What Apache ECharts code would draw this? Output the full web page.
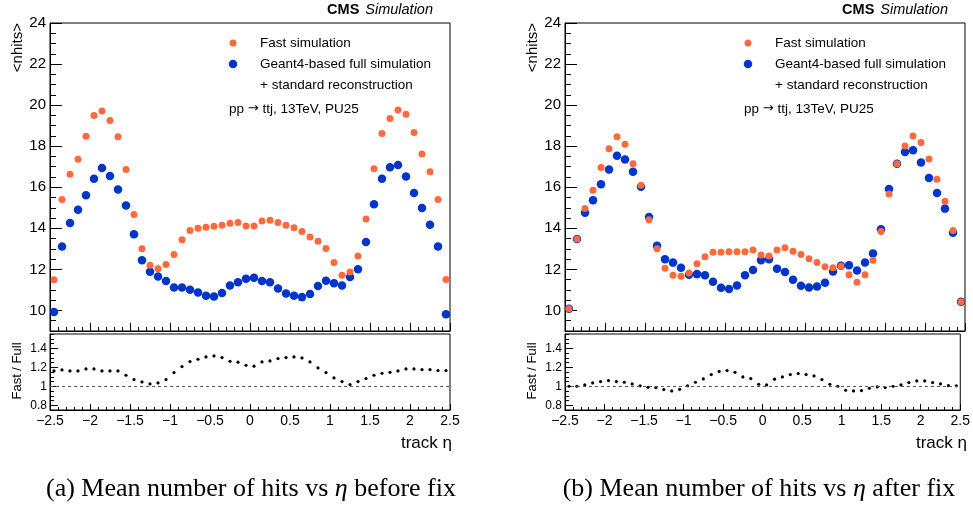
<!DOCTYPE html>
<html>
<head>
<meta charset="utf-8">
<script src="https://cdn.jsdelivr.net/npm/echarts@6/dist/echarts.min.js"></script>
<style>
html, body { margin: 0; padding: 0; background: #fff; }
#chart { width: 973px; height: 525px; }
</style>
</head>
<body>
<div id="chart"></div>
<script>
// Track eta bin centres (bins of width 0.1 from -2.5 to 2.5)
const etaCenters = [
  -2.45, -2.35, -2.25, -2.15, -2.05, -1.95, -1.85, -1.75, -1.65, -1.55,
  -1.45, -1.35, -1.25, -1.15, -1.05, -0.95, -0.85, -0.75, -0.65, -0.55,
  -0.45, -0.35, -0.25, -0.15, -0.05, 0.05, 0.15, 0.25, 0.35, 0.45,
  0.55, 0.65, 0.75, 0.85, 0.95, 1.05, 1.15, 1.25, 1.35, 1.45,
  1.55, 1.65, 1.75, 1.85, 1.95, 2.05, 2.15, 2.25, 2.35, 2.45
];

// (a) before fix: mean number of hits per track
const fastBefore = [
  11.50, 15.41, 16.63, 17.37, 18.49, 19.50, 19.72, 19.25, 18.46, 16.86,
  14.67, 13.01, 12.20, 12.03, 12.24, 12.72, 13.45, 13.89, 14.00, 14.05,
  14.10, 14.15, 14.25, 14.29, 14.11, 14.11, 14.36, 14.39, 14.29, 14.15,
  14.03, 13.84, 13.58, 13.37, 13.02, 12.33, 11.71, 11.87, 12.65, 14.45,
  16.90, 18.62, 19.35, 19.76, 19.55, 18.67, 17.62, 16.75, 15.40, 11.51
];
const fullBefore = [
  9.92, 13.12, 14.26, 14.91, 15.61, 16.42, 16.94, 16.55, 15.89, 15.11,
  13.71, 12.44, 11.89, 11.66, 11.43, 11.12, 11.12, 11.01, 10.88, 10.72,
  10.68, 10.85, 11.22, 11.38, 11.54, 11.59, 11.43, 11.38, 11.07, 10.83,
  10.72, 10.65, 10.80, 11.19, 11.45, 11.33, 11.22, 11.63, 12.01, 13.33,
  15.17, 16.42, 16.97, 17.08, 16.52, 15.72, 14.99, 14.18, 13.11, 9.82
];
const ratioBefore = [
  1.161, 1.172, 1.161, 1.161, 1.182, 1.182, 1.161, 1.161, 1.161, 1.116,
  1.070, 1.046, 1.025, 1.035, 1.070, 1.144, 1.207, 1.260, 1.284, 1.309,
  1.319, 1.302, 1.263, 1.253, 1.221, 1.211, 1.256, 1.267, 1.291, 1.302,
  1.309, 1.298, 1.256, 1.193, 1.144, 1.088, 1.049, 1.018, 1.049, 1.081,
  1.116, 1.137, 1.147, 1.161, 1.182, 1.182, 1.175, 1.175, 1.165, 1.165
];

// (b) after fix
const fastAfter = [
  10.08, 13.48, 14.96, 15.85, 16.96, 17.87, 18.46, 18.10, 17.15, 16.10,
  14.42, 13.01, 12.06, 11.72, 11.67, 11.82, 12.28, 12.62, 12.83, 12.84,
  12.86, 12.86, 12.86, 12.94, 12.70, 12.65, 12.94, 13.06, 12.89, 12.72,
  12.52, 12.33, 12.13, 12.08, 12.15, 11.74, 11.37, 11.74, 12.44, 13.85,
  15.67, 17.15, 18.01, 18.50, 18.18, 17.38, 16.39, 15.32, 13.89, 10.42
];
const fullAfter = [
  10.08, 13.48, 14.76, 15.37, 16.15, 16.86, 17.54, 17.35, 16.75, 16.02,
  14.55, 13.15, 12.49, 12.33, 12.08, 11.74, 11.77, 11.72, 11.40, 11.11,
  11.04, 11.22, 11.71, 11.97, 12.44, 12.50, 12.03, 11.87, 11.50, 11.20,
  11.12, 11.17, 11.35, 11.90, 12.18, 12.20, 11.95, 12.34, 12.77, 13.95,
  15.92, 17.15, 17.72, 17.80, 17.21, 16.45, 15.72, 14.96, 13.79, 10.42
];
const ratioAfter = [
  1.000, 1.000, 1.014, 1.035, 1.049, 1.060, 1.049, 1.042, 1.025, 1.004,
  0.989, 0.986, 0.965, 0.951, 0.968, 1.004, 1.042, 1.077, 1.123, 1.156,
  1.165, 1.147, 1.098, 1.081, 1.021, 1.014, 1.074, 1.098, 1.123, 1.133,
  1.123, 1.109, 1.070, 1.021, 1.000, 0.958, 0.951, 0.954, 0.979, 0.993,
  0.986, 1.000, 1.014, 1.039, 1.056, 1.056, 1.039, 1.025, 1.007, 1.004
];

// Labelled (major) tick values
const hitsTicks = [10, 12, 14, 16, 18, 20, 22, 24];
const ratioTicks = [0.8, 1, 1.2, 1.4];

const SANS = '"Liberation Sans", Arial, Helvetica, sans-serif';
const SERIF = '"Liberation Serif", "Times New Roman", serif';
const FAST_COLOR = '#ff6a3d';
const FULL_COLOR = '#0035cc';

const toPoints = (vals) => vals.map((v, i) => [etaCenters[i], v]);

function xAxisCfg(gridIndex, withLabels, majorLen, minorLen) {
  return {
    type: 'value', gridIndex, position: 'bottom', min: -2.5, max: 2.5, interval: 0.5,
    axisLine: { show: true, onZero: false, lineStyle: { color: '#000', width: 1 } },
    axisTick: { show: true, inside: true, length: majorLen, lineStyle: { color: '#000', width: 1 } },
    minorTick: { show: true, splitNumber: 5, length: minorLen, lineStyle: { color: '#000', width: 1 } },
    splitLine: { show: false }, minorSplitLine: { show: false },
    axisLabel: {
      show: withLabels, color: '#000', fontFamily: SANS, fontSize: 14, margin: 4,
      showMinLabel: true, showMaxLabel: true,
      formatter: (v) => String(v).replace('-', '\u2212')
    }
  };
}

// Two y axes per pane, both on the left: one carries the fine ticks and the
// axis line, the other the long ticks and the labels.
function yAxisPair(gridIndex, min, max, fine, majors, fineLen, majorLen, fontSize, margin) {
  return [
    {
      type: 'value', gridIndex, position: 'left', offset: 0, min, max, interval: fine,
      axisLine: { show: true, onZero: false, lineStyle: { color: '#000', width: 1 } },
      axisTick: { show: true, inside: true, length: fineLen, lineStyle: { color: '#000', width: 1 } },
      axisLabel: { show: false }, splitLine: { show: false }
    },
    {
      type: 'value', gridIndex, position: 'left', offset: 0, min, max, interval: fine,
      axisLine: { show: false, onZero: false },
      axisTick: { show: true, inside: true, length: majorLen, customValues: majors, lineStyle: { color: '#000', width: 1 } },
      axisLabel: {
        show: true, customValues: majors, color: '#000', fontFamily: SANS, fontSize, margin
      },
      splitLine: { show: false }
    }
  ];
}

function mainSeries(xi, yi, fast, full) {
  return [
    { type: 'scatter', xAxisIndex: xi, yAxisIndex: yi, data: toPoints(full), symbol: 'circle', symbolSize: 8.5,
      itemStyle: { color: FULL_COLOR, opacity: 1 }, z: 2, silent: true },
    { type: 'scatter', xAxisIndex: xi, yAxisIndex: yi, data: toPoints(fast), symbol: 'circle', symbolSize: 7,
      itemStyle: { color: FAST_COLOR, opacity: 1 }, z: 3, silent: true }
  ];
}

function ratioSeries(xi, yi, ratio) {
  return {
    type: 'scatter', xAxisIndex: xi, yAxisIndex: yi, data: toPoints(ratio), symbol: 'circle', symbolSize: 3.2,
    itemStyle: { color: '#000', opacity: 1 }, z: 3, silent: true,
    markLine: {
      silent: true, symbol: 'none', label: { show: false }, animation: false,
      lineStyle: { color: '#555', width: 1, type: [3, 3] },
      data: [{ yAxis: 1 }]
    }
  };
}

function panelGraphics(dx, caption) {
  const t = (x, y, text, extra) => ({
    type: 'text', x: x + dx, y,
    style: Object.assign({ text, fill: '#000', font: '13.5px ' + SANS, verticalAlign: 'middle' }, extra || {})
  });
  return [
    {
      type: 'text', x: 433 + dx, y: 10,
      style: {
        text: '{b|CMS}{i|Simulation}', align: 'right', verticalAlign: 'middle',
        rich: {
          b: { fontFamily: SANS, fontSize: 14.5, fontWeight: 'bold', fill: '#000', padding: [0, 6, 0, 0] },
          i: { fontFamily: SANS, fontSize: 14.5, fontStyle: 'italic', fill: '#000' }
        }
      }
    },
    { type: 'circle', shape: { cx: 233 + dx, cy: 43, r: 3.5 }, style: { fill: FAST_COLOR } },
    { type: 'circle', shape: { cx: 233 + dx, cy: 64, r: 4.25 }, style: { fill: FULL_COLOR } },
    t(260, 43, 'Fast simulation'),
    t(260, 64, 'Geant4-based full simulation'),
    t(260, 85, '+ standard reconstruction'),
    {
      type: 'text', x: 229 + dx, y: 109,
      style: {
        text: '{s|pp }{a|\u2192}{s| ttj, 13TeV, PU25}', verticalAlign: 'middle',
        rich: {
          s: { fontFamily: SANS, fontSize: 13.5, fill: '#000' },
          a: { fontFamily: '"DejaVu Sans", sans-serif', fontSize: 13, fill: '#000' }
        }
      }
    },
    {
      type: 'text', x: 18 + dx, y: 23, rotation: Math.PI / 2,
      style: { text: '<nhits>', fill: '#000', font: '15px ' + SANS, align: 'right', verticalAlign: 'middle' }
    },
    {
      type: 'text', x: 17 + dx, y: 371, rotation: Math.PI / 2,
      style: { text: 'Fast / Full', fill: '#000', font: '13px ' + SANS, align: 'center', verticalAlign: 'middle' }
    },
    t(452, 443, 'track \u03b7', { font: '17px ' + SANS, align: 'right' }),
    {
      type: 'text', x: caption.x, y: 489,
      style: {
        text: caption.text, align: 'center', verticalAlign: 'middle',
        rich: {
          r: { fontFamily: SERIF, fontSize: 26, fill: '#000' },
          it: { fontFamily: SERIF, fontSize: 26, fontStyle: 'italic', fill: '#000' }
        }
      }
    }
  ];
}

const chart = echarts.init(document.getElementById('chart'), null, { renderer: 'canvas' });

const gridBox = { show: true, borderColor: '#000', borderWidth: 1, backgroundColor: 'transparent', containLabel: false };

chart.setOption({
  animation: false,
  backgroundColor: '#fff',
  grid: [
    Object.assign({ left: 50, top: 23, width: 400, height: 308 }, gridBox),
    Object.assign({ left: 50, top: 334, width: 400, height: 76 }, gridBox),
    Object.assign({ left: 565, top: 23, width: 400, height: 308 }, gridBox),
    Object.assign({ left: 565, top: 334, width: 400, height: 76 }, gridBox)
  ],
  xAxis: [
    xAxisCfg(0, false, 8, 4),
    xAxisCfg(1, true, 6, 3),
    xAxisCfg(2, false, 8, 4),
    xAxisCfg(3, true, 6, 3)
  ],
  yAxis: [].concat(
    yAxisPair(0, 9, 24, 0.5, hitsTicks, 6, 12, 15, 4),
    yAxisPair(1, 0.75, 1.55, 0.05, ratioTicks, 4, 8, 12, 3),
    yAxisPair(2, 9, 24, 0.5, hitsTicks, 6, 12, 15, 4),
    yAxisPair(3, 0.75, 1.55, 0.05, ratioTicks, 4, 8, 12, 3)
  ),
  series: [].concat(
    mainSeries(0, 1, fastBefore, fullBefore),
    [ratioSeries(1, 3, ratioBefore)],
    mainSeries(2, 5, fastAfter, fullAfter),
    [ratioSeries(3, 7, ratioAfter)]
  ),
  graphic: [].concat(
    panelGraphics(0, { x: 251, text: '{r|(a) Mean number of hits vs }{it|\u03b7}{r| before fix}' }),
    panelGraphics(515, { x: 759, text: '{r|(b) Mean number of hits vs }{it|\u03b7}{r| after fix}' })
  )
});
</script>
</body>
</html>
